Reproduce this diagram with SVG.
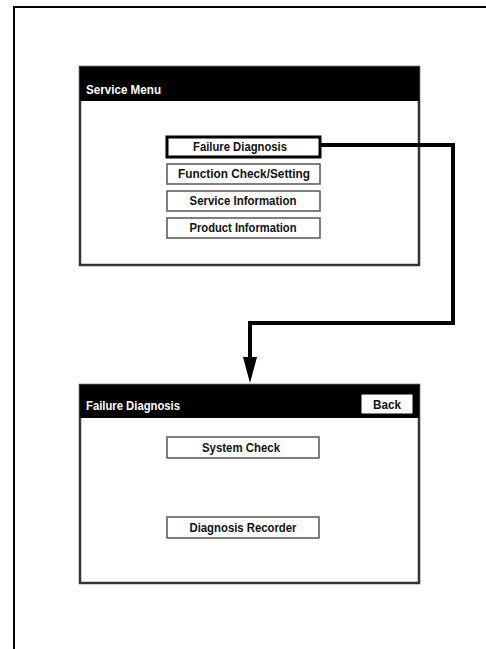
<svg xmlns="http://www.w3.org/2000/svg" width="486" height="649" viewBox="0 0 486 649">
<style>
.frame{fill:none;stroke:#000;stroke-width:2}
.screen{fill:#fff;stroke:#333;stroke-width:2.5}
.bar{fill:#000}
.btn{fill:#fff;stroke:#555;stroke-width:1.5}
.btnsel{fill:#fff;stroke:#000;stroke-width:3}
.t{font-family:"Liberation Sans",Arial,sans-serif;font-weight:bold;font-size:12px;fill:#111;text-anchor:middle}
.tw{font-family:"Liberation Sans",Arial,sans-serif;font-weight:bold;font-size:12px;fill:#fff}
.conn{fill:none;stroke:#000;stroke-width:4}
</style>
<defs>
<marker id="ah" viewBox="0 0 26 14" refX="0" refY="7" markerWidth="26" markerHeight="14" orient="auto" markerUnits="userSpaceOnUse">
<path d="M0,0 L26,7 L0,14 Z" fill="#000"/>
</marker>
</defs>
<g id="frame">
<path class="frame" d="M14,649 V7 H486"/>
</g>
<g id="service-menu">
<rect class="screen" x="80" y="67" width="339" height="198"/>
<rect class="bar" x="80" y="67" width="339" height="34"/>
<text class="tw" x="86" y="94" textLength="75" lengthAdjust="spacingAndGlyphs">Service Menu</text>
</g>
<g id="btn-failure">
<rect class="btnsel" x="167" y="137" width="153" height="20"/>
<text class="t" x="240" y="151" textLength="94" lengthAdjust="spacingAndGlyphs">Failure Diagnosis</text>
</g>
<g id="btn-function">
<rect class="btn" x="167" y="164" width="153" height="20"/>
<text class="t" x="244" y="178" textLength="132" lengthAdjust="spacingAndGlyphs">Function Check/Setting</text>
</g>
<g id="btn-service">
<rect class="btn" x="167" y="191" width="153" height="20"/>
<text class="t" x="243" y="205" textLength="107" lengthAdjust="spacingAndGlyphs">Service Information</text>
</g>
<g id="btn-product">
<rect class="btn" x="167" y="218" width="153" height="20"/>
<text class="t" x="243" y="232" textLength="107" lengthAdjust="spacingAndGlyphs">Product Information</text>
</g>
<g id="connectors">
<path class="conn" d="M321,145 H453 V323 H250 V357" marker-end="url(#ah)"/>
</g>
<g id="failure-diagnosis">
<rect class="screen" x="80" y="385" width="339" height="198"/>
<rect class="bar" x="80" y="385" width="339" height="33"/>
<text class="tw" x="86" y="410" textLength="94" lengthAdjust="spacingAndGlyphs">Failure Diagnosis</text>
</g>
<g id="btn-back">
<rect x="361" y="394" width="52" height="20" fill="#fff" stroke="#000" stroke-width="1"/>
<text class="t" x="387" y="409" textLength="28" lengthAdjust="spacingAndGlyphs">Back</text>
</g>
<g id="btn-system">
<rect class="btn" x="167" y="437" width="152" height="21"/>
<text class="t" x="241" y="452" textLength="78" lengthAdjust="spacingAndGlyphs">System Check</text>
</g>
<g id="btn-recorder">
<rect class="btn" x="167" y="517" width="152" height="21"/>
<text class="t" x="243" y="532" textLength="107" lengthAdjust="spacingAndGlyphs">Diagnosis Recorder</text>
</g>
</svg>
